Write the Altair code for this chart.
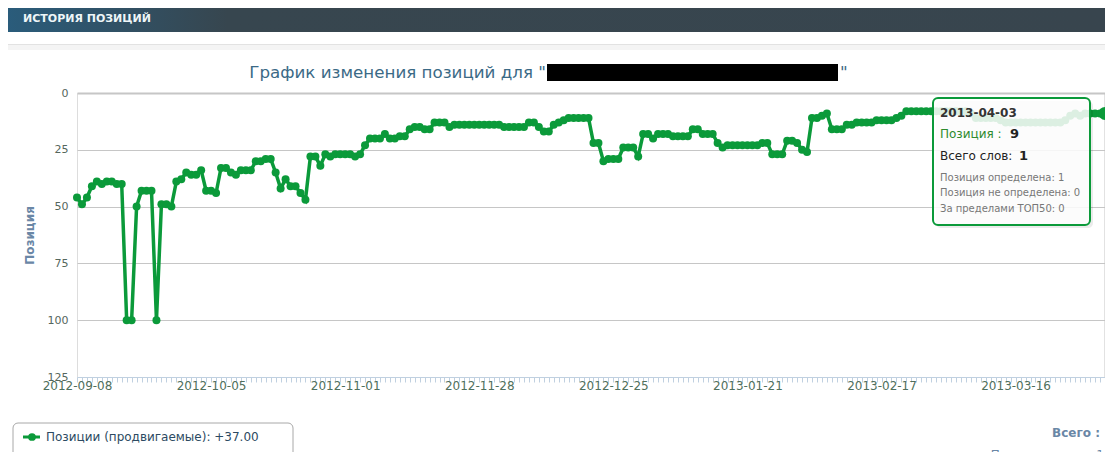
import altair as alt
import pandas as pd

# ---------------- data ----------------
START = "2012-09-08"
END = "2013-04-03"
POSITIONS = [
    46, 49, 46, 41, 39, 40, 39, 39, 40, 40,
    100, 100, 50, 43, 43, 43, 100, 49, 49, 50,
    39, 38, 35, 36, 36, 34, 43, 43, 44, 33,
    33, 35, 36, 34, 34, 34, 30, 30, 29, 29,
    35, 42, 38, 41, 41, 44, 47, 28, 28, 32,
    27, 28, 27, 27, 27, 27, 28, 27, 23, 20,
    20, 20, 18, 20, 20, 19, 19, 16, 15, 15,
    16, 16, 13, 13, 13, 15, 14, 14, 14, 14,
    14, 14, 14, 14, 14, 14, 15, 15, 15, 15,
    15, 13, 13, 15, 17, 17, 14, 13, 12, 11,
    11, 11, 11, 11, 22, 22, 30, 29, 29, 29,
    24, 24, 24, 28, 18, 18, 20, 18, 18, 18,
    19, 19, 19, 19, 16, 16, 18, 18, 18, 22,
    24, 23, 23, 23, 23, 23, 23, 23, 22, 22,
    27, 27, 27, 21, 21, 22, 25, 26, 11, 11,
    10, 9, 16, 16, 16, 14, 14, 13, 13, 13,
    13, 12, 12, 12, 12, 11, 10, 8, 8, 8,
    8, 8, 8, 8, 8, 8, 8, 8, 8, 8,
    9, 11, 11, 11, 11, 11, 12, 13, 13, 13,
    13, 13, 13, 13, 13, 13, 13, 13, 13, 12,
    10, 9, 10, 9, 9, 9, 9, 9,
]
TICK_LABELS = ["2012-09-08", "2012-10-05", "2012-11-01", "2012-11-28",
               "2012-12-25", "2013-01-21", "2013-02-17", "2013-03-16"]
Y_TICKS = [0, 25, 50, 75, 100, 125]

HEADER = "ИСТОРИЯ ПОЗИЦИЙ"
TITLE = "График изменения позиций для  \""
Y_TITLE = "Позиция"
SERIES_LABEL = "Позиции (продвигаемые): +37.00"
TOTAL_LABEL = "Всего :"
TOTAL_SUB = "Продвигаемых : 1"
TIP_DATE = "2013-04-03"
TIP_POS_LABEL = "Позиция : "
TIP_POS_VALUE = "9"
TIP_WORDS_LABEL = "Всего слов: "
TIP_WORDS_VALUE = "1"
TIP_LINES = ["Позиция определена: 1", "Позиция не определена: 0", "За пределами ТОП50: 0"]

GREEN = "#0b9a3a"
FONT = "DejaVu Sans"

dates = pd.date_range(START, periods=len(POSITIONS), freq="D")
df = pd.DataFrame({"date": dates.strftime("%Y-%m-%d"), "pos": POSITIONS})
df_last = df.tail(1)


def ms(d):
    return int(pd.Timestamp(d).value // 10**6)


tick_values = [ms(d) for d in pd.date_range(START, END, freq="D")]
lab_arr = "[" + ",".join("'%s'" % t for t in TICK_LABELS) + "]"
label_expr = ("indexof(%s, utcFormat(datum.value, '%%Y-%%m-%%d')) >= 0 ? "
              "utcFormat(datum.value, '%%Y-%%m-%%d') : ''") % lab_arr

x_enc = alt.X(
    "date:T",
    scale=alt.Scale(type="utc", domain=[ms(START), ms(END)]),
    axis=alt.Axis(
        values=tick_values, tickCount=1000, labelExpr=label_expr, title=None,
        grid=False, domainColor="#c0d0e0", tickColor="#c0d0e0", tickSize=5,
        labelPadding=-2, labelFont=FONT, labelFontSize=12,
        labelColor="#4f6f5c", labelOverlap=False, labelBound=False,
        labelFlush=False,
    ),
)
y_enc = alt.Y(
    "pos:Q",
    scale=alt.Scale(domain=[0, 125], reverse=True, nice=False, zero=False),
    axis=alt.Axis(
        values=Y_TICKS, title=Y_TITLE, domain=False, ticks=False,
        labelPadding=9, labelFont=FONT, labelFontSize=11, labelColor="#55675d",
        gridColor="#c6c6c6",
        gridWidth={"condition": {"test": "datum.value === 0", "value": 2}, "value": 1},
        gridOpacity={"condition": {"test": "datum.value === 125", "value": 0}, "value": 1},
        titleFont=FONT, titleFontSize=12, titleFontWeight="bold",
        titleColor="#6a87a6", titlePadding=11,
    ),
)

base = alt.Chart(df).encode(x=x_enc, y=y_enc)
line = base.mark_line(color=GREEN, strokeWidth=3.5)
points = base.mark_point(filled=True, size=64, color=GREEN, opacity=1)

rule = alt.Chart(df_last).mark_rule(color="#c4c4c4", strokeWidth=1).encode(x="date:T")
hover = alt.Chart(df_last).mark_point(filled=True, size=170, color=GREEN, opacity=1).encode(
    x="date:T", y="pos:Q")

one = pd.DataFrame({"t": [0]})


def box(x, x2, y, y2, **kw):
    return alt.Chart(one).mark_rect(**kw).encode(
        x=alt.value(x), x2=alt.value(x2), y=alt.value(y), y2=alt.value(y2))


def txt(s, x, y, **kw):
    kw.setdefault("font", FONT)
    kw.setdefault("baseline", "middle")
    kw.setdefault("align", "left")
    return alt.Chart(pd.DataFrame({"s": [s]})).mark_text(**kw).encode(
        x=alt.value(x), y=alt.value(y), text="s:N")


header_grad = alt.Gradient(
    gradient="linear", x1=0, x2=1, y1=0, y2=0,
    stops=[alt.GradientStop(offset=0, color="#2a5c7b"),
           alt.GradientStop(offset=0.2, color="#37464f"),
           alt.GradientStop(offset=1, color="#38454e")])

header = box(-69, 1028, -85, -61, fill=header_grad)
header_text = txt(HEADER, -54, -74, fontSize=11, fontWeight="bold", color="#eef6f8")
sep_band = box(-69, 1028, -49, -43, fill="#f4f4f4")
sep_line = box(-69, 1028, -49, -48, fill="#e2e2e2")

title = txt(TITLE, 469, -20, align="right", fontSize=16.7, color="#3b6a86")
redact = box(470, 761, -29, -12, fill="black")
title_q = txt("\"", 763, -20, fontSize=16.7, color="#3b6a86")

tip_shadow = box(859, 1016, 8, 135, fill="black", opacity=0.08, cornerRadius=5)
tip_box = box(856, 1013, 5, 132, fill="white", fillOpacity=0.86, stroke=GREEN,
              strokeWidth=2, cornerRadius=5)
tip_texts = [
    txt(TIP_DATE, 863, 20, fontSize=12, fontWeight="bold", color="#333333"),
    txt(TIP_POS_LABEL, 863, 41, fontSize=12, color="#2e8b2e"),
    txt(TIP_POS_VALUE, 933, 41, fontSize=13, fontWeight="bold", color="#222222"),
    txt(TIP_WORDS_LABEL, 863, 63, fontSize=12, color="#222222"),
    txt(TIP_WORDS_VALUE, 942, 63, fontSize=13, fontWeight="bold", color="#222222"),
]
for i, s in enumerate(TIP_LINES):
    tip_texts.append(txt(s, 863, [85, 100, 116][i], fontSize=10, color="#777777"))

legend_box = box(-64, 216, 330, 372, fill="white", stroke="#a8a8a8", strokeWidth=1,
                 cornerRadius=5)
legend_line = alt.Chart(one).mark_rule(color=GREEN, strokeWidth=3).encode(
    x=alt.value(-54), x2=alt.value(-37), y=alt.value(344))
legend_dot = alt.Chart(one).mark_point(filled=True, size=60, color=GREEN, opacity=1).encode(
    x=alt.value(-45), y=alt.value(344))
legend_text = txt(SERIES_LABEL, -31, 344, fontSize=12, color="#2c4a62")

total_text = txt(TOTAL_LABEL, 1023, 340, align="right", fontSize=12, fontWeight="bold",
                 color="#6a87a6")
total_sub = txt(TOTAL_SUB, 1027, 362, align="right", fontSize=12, color="#6a87a6")

chart = alt.layer(
    header, header_text, sep_band, sep_line, title, redact, title_q,
    line, points, rule, hover,
    tip_shadow, tip_box, *tip_texts,
    legend_box, legend_line, legend_dot, legend_text, total_text, total_sub,
).properties(
    width=1028, height=284,
    padding={"left": 69, "top": 85, "right": 0, "bottom": 83},
    autosize=alt.AutoSizeParams(type="none"),
).configure_view(stroke=None).configure(font=FONT)

chart.save("out.html", embed_options={"renderer": "svg", "actions": False})
